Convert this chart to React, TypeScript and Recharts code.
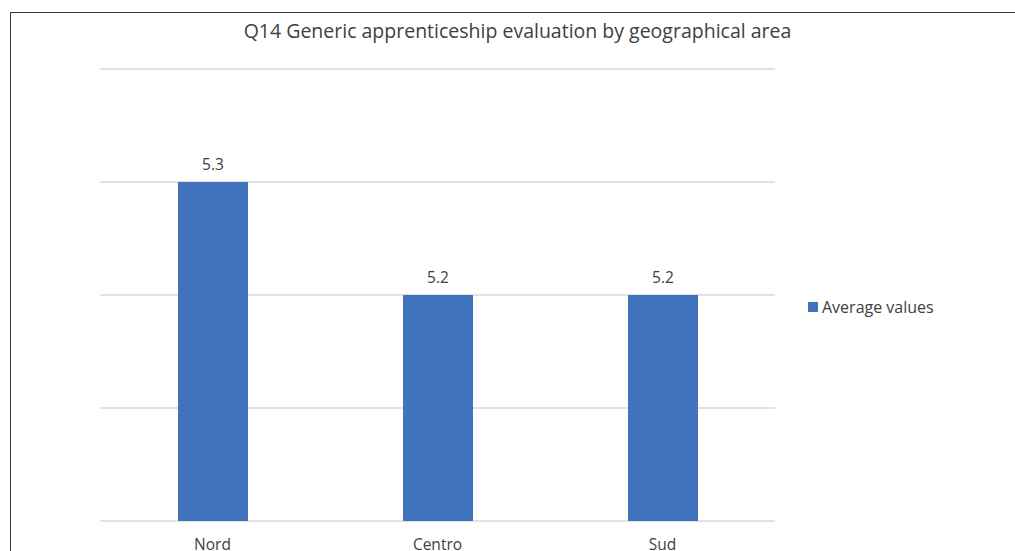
import { BarChart, Bar, XAxis, YAxis, CartesianGrid, LabelList } from "recharts";

const areas = ["Nord", "Centro", "Sud"];
const averageValues = [5.3, 5.2, 5.2];
const yTicks = [5.0, 5.1, 5.2, 5.3, 5.4];
const seriesName = "Average values";

const data = areas.map((name, i) => ({ name, value: averageValues[i] }));

const FONT = "'Open Sans', 'Liberation Sans', sans-serif";
const BLUE = "#4173bd";

export default function App() {
  return (
    <div style={{ position: "fixed", left: 0, top: 0, width: 1015, height: 551, overflow: "hidden", background: "#fff", fontFamily: FONT }}>
      <div style={{ position: "absolute", left: 10, top: 12, width: 1100, height: 700, border: "1.5px solid #3a3a3a" }} />
      <div style={{ position: "absolute", left: 0, top: 17, width: 1035, textAlign: "center", fontSize: 19.5, color: "#404040" }}>
        Q14 Generic apprenticeship evaluation by geographical area
      </div>
      <div style={{ position: "absolute", left: 0, top: 0 }}>
        <BarChart width={1015} height={551} data={data} margin={{ top: 69, right: 240, bottom: 0, left: 100 }}>
          <CartesianGrid vertical={false} stroke="#d9d9d9" strokeWidth={1.5} />
          <YAxis hide domain={[5.0, 5.4]} ticks={yTicks} />
          <XAxis
            dataKey="name"
            height={30}
            axisLine={false}
            tickLine={false}
            tick={{ fontSize: 15.5, fill: "#404040", fontFamily: FONT }}
            dy={10}
          />
          <Bar dataKey="value" name={seriesName} fill={BLUE} barSize={70} isAnimationActive={false}>
            <LabelList dataKey="value" position="top" offset={12} fill="#404040" fontSize={15.5} fontFamily={FONT} formatter={(v: any) => Number(v).toFixed(1)} />
          </Bar>
        </BarChart>
      </div>
      <div style={{ position: "absolute", left: 808, top: 296, display: "flex", alignItems: "center", fontSize: 16, color: "#404040" }}>
        <span style={{ display: "inline-block", width: 10, height: 10, background: BLUE, marginRight: 4 }} />
        {seriesName}
      </div>
    </div>
  );
}
